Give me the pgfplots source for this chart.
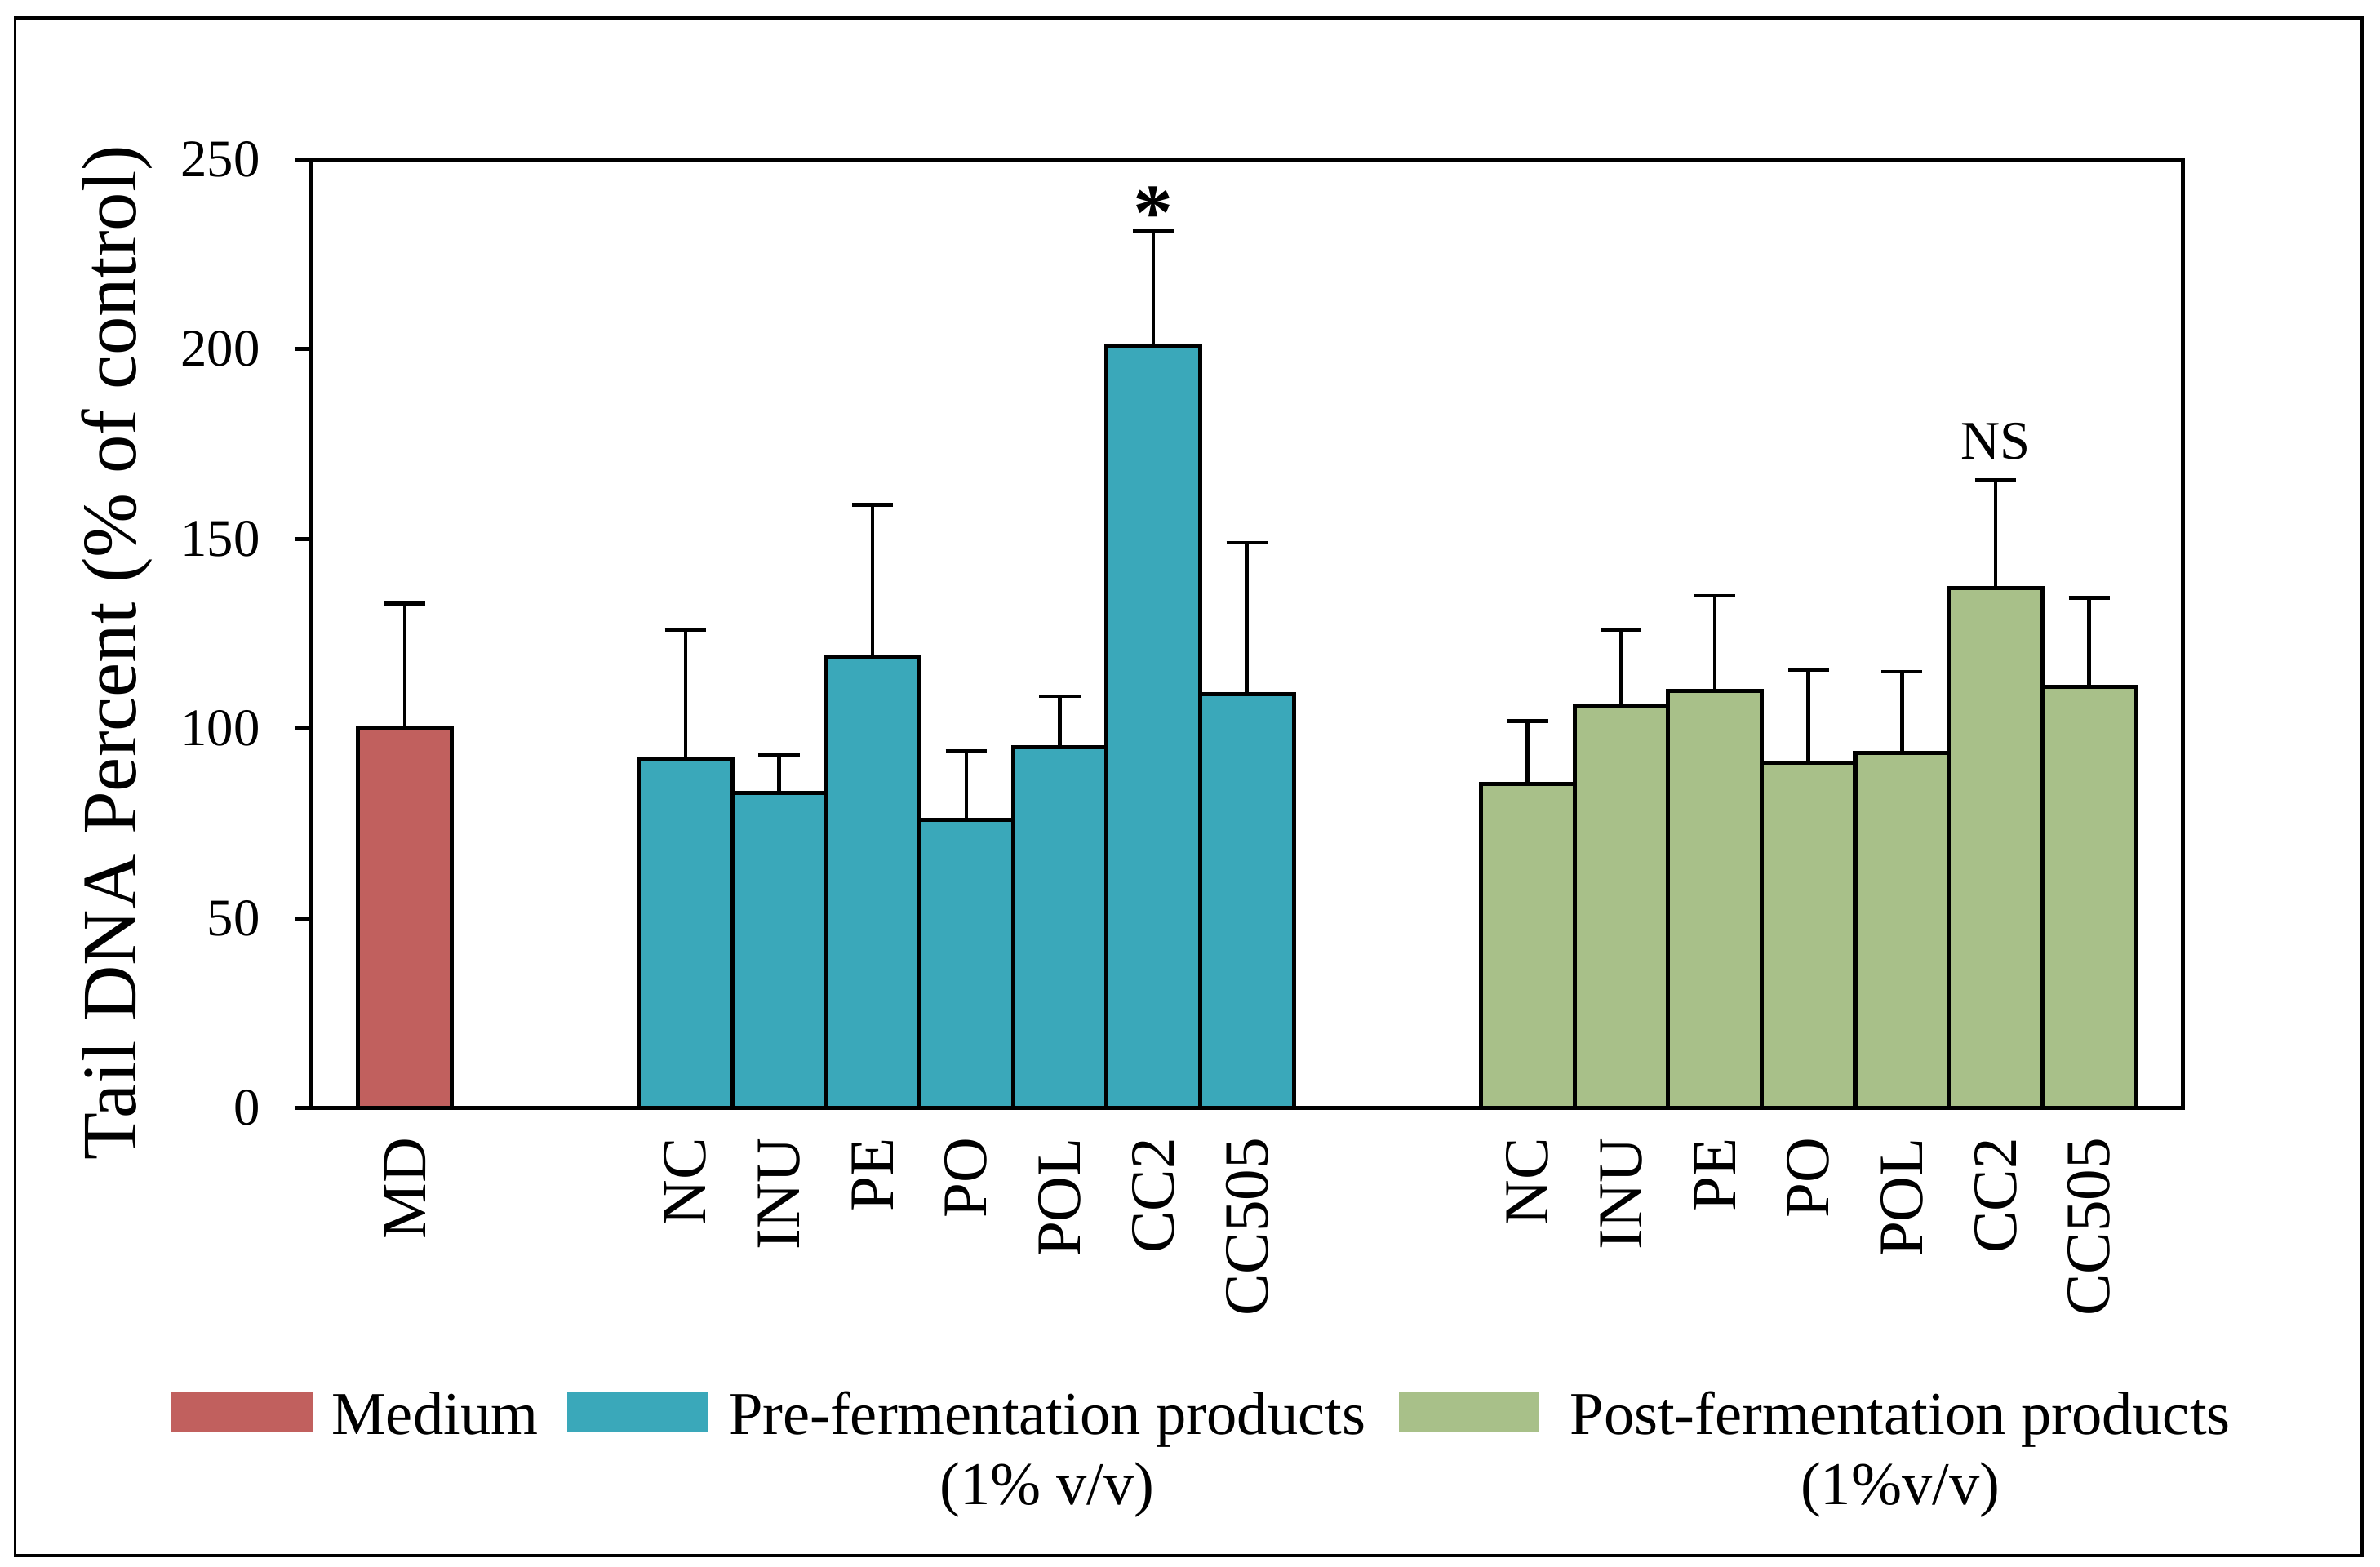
\documentclass[border=0pt]{standalone}
\usepackage{fontspec}
\setmainfont{Liberation Serif}
\usepackage{pgfplots}
\pgfplotsset{compat=1.18}
\usepackage{pgfplotstable}
\definecolor{mdred}{HTML}{C1605E}
\definecolor{preteal}{HTML}{3AA8BA}
\definecolor{postgreen}{HTML}{A8C089}

\pgfplotstableread{
x y e
1 100 33
}\tmd
\pgfplotstableread{
x y e
4 92 34
5 83 10
6 119 40
7 76 18
8 95 13.5
9 201 30
10 109 40
}\tpre
\pgfplotstableread{
x y e
13 85.5 16.5
14 106 20
15 110 25
16 91 24.5
17 93.5 21.5
18 137 28.5
19 111 23.5
}\tpost

\begin{document}
\begin{tikzpicture}
\path[use as bounding box] (0,0) rectangle (156.8mm,103.2mm);
\draw[line width=0.57pt] (1mm,0.7mm) rectangle (155.6mm,102mm);
\begin{axis}[
  at={(20.5mm,30.2mm)}, anchor=south west,
  scale only axis, width=123.3mm, height=62.5mm,
  xmin=0, xmax=20, ymin=0, ymax=250,
  axis line style={line width=0.77pt},
  ytick={0,50,...,250}, ytick pos=left, tick align=outside,
  major tick length=1.1mm,
  ytick style={line width=0.77pt, black},
  xtick={1,4,5,6,7,8,9,10,13,14,15,16,17,18,19},
  xticklabels={MD,NC,INU,PE,PO,POL,CC2,CC505,NC,INU,PE,PO,POL,CC2,CC505},
  xtick style={draw=none},
  xticklabel style={yshift=-0.8mm, rotate=90, anchor=east, inner sep=0pt,
    font=\fontsize{11.8}{13}\selectfont},
  yticklabel style={font=\fontsize{9.9}{12}\selectfont, inner sep=0pt, xshift=-2.2mm},
  /pgf/number format/assume math mode=true,
  ylabel={Tail DNA Percent (\% of control)},
  ylabel style={at={(axis description cs:-0.1038,0.48)}, anchor=center,
    font=\fontsize{14.5}{16}\selectfont},
  error bars/y dir=plus, error bars/y explicit,
  error bars/error bar style={line width=0.7pt, black},
  error bars/error mark options={rotate=90, line width=0.7pt, black, mark size=1.35mm},
  legend columns=3,
  legend style={at={(axis description cs:-0.0746,-0.2928)}, anchor=north west,
    draw=none, fill=none, inner sep=0pt, outer sep=0pt,
    cells={anchor=base west},
    nodes={inner sep=0pt, text depth=},
    font=\fontsize{11.4}{13.1}\selectfont,
    /tikz/column 1/.style={column sep=1.3mm},
    /tikz/column 2/.style={column sep=1.9mm},
    /tikz/column 3/.style={column sep=1.4mm},
    /tikz/column 4/.style={column sep=2.2mm},
    /tikz/column 5/.style={column sep=2.0mm}},
]
\addplot[ybar, bar width=1, bar shift=0pt, fill=mdred, draw=black, line width=0.77pt,
  legend image code/.code={\fill[mdred] (0mm,0.3mm) rectangle (9mm,2.65mm);}]
  table[x=x, y=y, y error=e]{\tmd};
\addlegendentry{Medium}
\addplot[ybar, bar width=1, bar shift=0pt, fill=preteal, draw=black, line width=0.77pt,
  legend image code/.code={\fill[preteal] (0mm,0.3mm) rectangle (9mm,2.65mm);}]
  table[x=x, y=y, y error=e]{\tpre};
\addlegendentry{\begin{tabular}[t]{@{}c@{}}Pre-fermentation products\\(1\% v/v)\end{tabular}}
\addplot[ybar, bar width=1, bar shift=0pt, fill=postgreen, draw=black, line width=0.77pt,
  legend image code/.code={\fill[postgreen] (0mm,0.3mm) rectangle (9mm,2.65mm);}]
  table[x=x, y=y, y error=e]{\tpost};
\addlegendentry{\begin{tabular}[t]{@{}c@{}}Post-fermentation products\\(1\%v/v)\end{tabular}}
\node[anchor=south, inner sep=0pt, yshift=-0.6mm, font=\fontsize{15}{15}\selectfont\bfseries] at (axis cs:9,231) {*};
\node[anchor=south, inner sep=0pt, yshift=1.3mm, font=\fontsize{10.2}{12}\selectfont] at (axis cs:18,165.5) {NS};
\end{axis}
\end{tikzpicture}
\end{document}
